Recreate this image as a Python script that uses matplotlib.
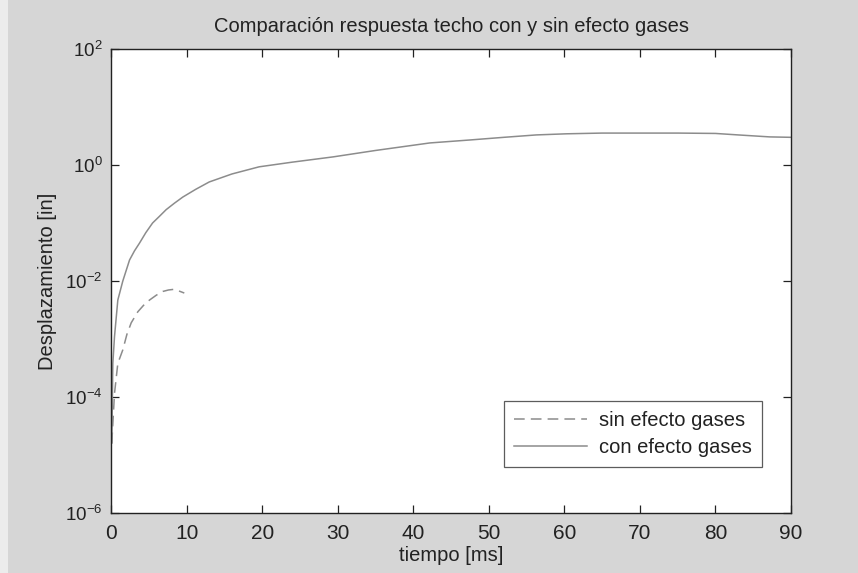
import matplotlib

matplotlib.use("Agg")

import matplotlib.pyplot as plt
from matplotlib.ticker import FixedLocator, LogFormatterSciNotation, NullLocator

plt.rcParams["font.family"] = ["Liberation Sans", "DejaVu Sans"]

LINE_GRAY = "#8c8c8c"
BG_GRAY = "#d6d6d6"
INK = "#222222"

# roof displacement with gas effect [in] vs time [ms]
t_con = [0.1, 0.24, 0.46, 0.9, 1.56, 2.45, 3.1, 3.77, 4.6, 5.5, 6.4, 7.3, 8.4,
         9.5, 11.2, 13.0, 16.0, 19.6, 24.0, 29.4, 35.0, 42.2, 47.5, 52.0,
         56.3, 60.3, 65.0, 70.0, 75.0, 80.0, 83.0, 87.2, 90.0]
d_con = [1.6e-5, 3.8e-4, 1.1e-3, 4.7e-3, 1.0e-2, 0.023, 0.033, 0.045, 0.068,
         0.10, 0.13, 0.17, 0.22, 0.28, 0.38, 0.51, 0.70, 0.93, 1.12, 1.38,
         1.78, 2.4, 2.7, 3.0, 3.3, 3.45, 3.55, 3.55, 3.55, 3.5, 3.3, 3.05, 3.0]

# roof displacement without gas effect
t_sin = [0.1, 0.46, 0.9, 1.56, 2.1, 2.67, 3.55, 4.3, 5.1, 6.0, 6.85, 7.6, 8.4,
         9.7]
d_sin = [1.6e-5, 1.15e-4, 3.8e-4, 6.5e-4, 1.2e-3, 1.9e-3, 2.95e-3, 3.8e-3,
         4.7e-3, 5.7e-3, 6.6e-3, 7.0e-3, 7.2e-3, 6.2e-3]

x_ticks = [0, 10, 20, 30, 40, 50, 60, 70, 80, 90]
y_ticks = [1e-6, 1e-4, 1e-2, 1e0, 1e2]

fig = plt.figure(figsize=(8.58, 5.73), dpi=100, facecolor=BG_GRAY)
# pale strip along the left edge of the page
fig.patches.append(plt.Rectangle((0, 0), 0.009, 1, transform=fig.transFigure,
                                 facecolor="#ececec", edgecolor="none", zorder=0))
ax = fig.add_axes([0.1294, 0.1047, 0.7925, 0.8098])
ax.set_facecolor("white")

ax.plot(t_sin, d_sin, color=LINE_GRAY, linewidth=1.1, dashes=(7, 4),
        label="sin efecto gases")
ax.plot(t_con, d_con, color=LINE_GRAY, linewidth=1.1, label="con efecto gases")

ax.set_yscale("log")
ax.set_xlim(0, 90)
ax.set_ylim(1e-6, 1e2)
ax.xaxis.set_major_locator(FixedLocator(x_ticks))
ax.yaxis.set_major_locator(FixedLocator(y_ticks))
ax.yaxis.set_major_formatter(LogFormatterSciNotation())
ax.yaxis.set_minor_locator(NullLocator())
ax.tick_params(direction="in", top=True, right=True, length=6, width=0.9,
               color=INK, labelcolor=INK)
ax.tick_params(axis="x", labelsize=15, pad=8)
ax.tick_params(axis="y", labelsize=13.5, pad=6)
for s in ax.spines.values():
    s.set_color(INK)
    s.set_linewidth(1.0)

ax.set_title("Comparación respuesta techo con y sin efecto gases",
             fontsize=14.5, color=INK, pad=12)
ax.set_xlabel("tiempo [ms]", fontsize=14.5, color=INK, labelpad=2)
ax.set_ylabel("Desplazamiento [in]", fontsize=14.5, color=INK, labelpad=6)

leg = ax.legend(loc="lower right", bbox_to_anchor=(0.957, 0.099),
                borderaxespad=0, fontsize=14.5, handlelength=3.6,
                frameon=True, fancybox=False, edgecolor="#333333",
                borderpad=0.5, labelspacing=0.4, handletextpad=0.6)
leg.get_frame().set_linewidth(0.9)
for txt in leg.get_texts():
    txt.set_color(INK)

fig.savefig("out.png", dpi=100, facecolor=fig.get_facecolor())
